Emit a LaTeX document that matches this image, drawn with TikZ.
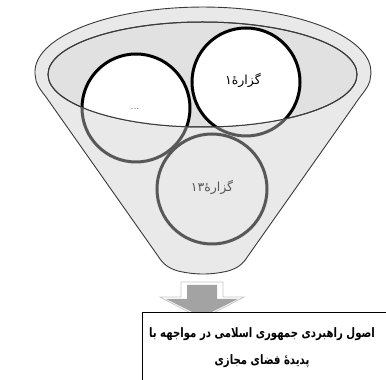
\documentclass[tikz,border=0pt]{standalone}
\usepackage{fontspec}
\newfontfamily\arabicfont[Script=Arabic]{DejaVu Sans}
\newfontfamily\goalfont[Script=Arabic, FakeStretch=0.78]{DejaVu Sans}
\TeXXeTstate=1
\usetikzlibrary{calc}
\definecolor{funnelgray}{HTML}{E9E9E9}
\definecolor{rimgray}{HTML}{E1E1E1}
\definecolor{edge}{HTML}{3A3A3A}
\definecolor{ringfront}{HTML}{585858}
\definecolor{arrowfill}{HTML}{A3A3A3}
\definecolor{arrowline}{HTML}{C6C6C6}
\tikzset{
  funnel/.style={fill=funnelgray, draw=edge, line width=0.9pt},
  rim/.style={fill=rimgray, draw=edge, line width=1pt},
  ring/.style={draw=black, line width=3pt},
  ringback/.style={draw=ringfront, line width=3pt},
  ringlabel/.style={font=\arabicfont\fontsize{12.5}{14}\selectfont, text=#1, inner sep=1pt},
  goalbox/.style={draw=black, fill=white, line width=1pt},
  goaltext/.style={font=\goalfont\bfseries\fontsize{13}{27}\selectfont, align=center, text=black},
}
\begin{document}
\begin{tikzpicture}[x=1pt,y=1pt]
  \useasboundingbox (0,0) rectangle (386,380);
  \clip (0,0) rectangle (386,380);

  % funnel body
  \path[funnel] (158,124) -- (46,283)
    .. controls (38,293) and (35.6,298) .. (35.6,302.3)
    arc[start angle=185, end angle=-5, x radius=168, y radius=65]
    .. controls (370.4,298) and (368,293) .. (360,283) -- (248,124)
    .. controls (243,116) and (238,112) .. (228,109)
    .. controls (211,105) and (195,105) .. (178,109)
    .. controls (168,112) and (163,116) .. cycle;
  \path[rim] (202.5,305.5) ellipse[x radius=154.5, y radius=52.5];

  % statements seen through the opening
  \begin{scope}
    \clip (202.5,305.5) ellipse[x radius=154.5, y radius=52.5];
    \foreach \cx/\cy/\r in {136/272/54, 246/298/54} {
      \fill[white] (\cx,\cy) circle (\r);
      \draw[ring] (\cx,\cy) circle (\r);
    }
  \end{scope}
  \draw[edge, line width=1pt] (202.5,305.5) ellipse[x radius=154.5, y radius=52.5];

  % statements behind the front wall
  \begin{scope}
    \clip (48,305.5) arc[start angle=180, end angle=360, x radius=154.5, y radius=52.5]
      -- (357,0) -- (48,0) -- cycle;
    \foreach \cx/\cy/\r in {136/272/54, 246/298/54, 212/191/55} {
      \draw[ringback] (\cx,\cy) circle (\r);
    }
  \end{scope}

  \node[ringlabel=black] (s1) at (243,300) {\beginR گزارهٔ\beginL ۱\endL\endR};
  \node[ringlabel=ringfront, font=\fontsize{11}{12}\selectfont] (sdots) at (135,271) {...};
  \node[ringlabel=ringfront] (s13) at (212,193) {\beginR گزارهٔ\beginL ۱۳\endL\endR};

  % block arrow
  \path[fill=white, draw=arrowline, line width=0.8pt]
    (181,98) -- (223,98) -- (223,83) -- (244,83) -- (202,61) -- (160,83) -- (181,83) -- cycle;
  \fill[arrowfill]
    (187,95) -- (217,95) -- (217,81) -- (238,81) -- (202,63) -- (166,81) -- (187,81) -- cycle;

  % result box
  \path[goalbox] (142,-10) rectangle (400,67);
  \node[goaltext] (goal) at (262,32.5)
    {\beginR اصول راهبردی جمهوری اسلامی در مواجهه با\endR\\
     \beginR پدیدهٔ فضای مجازی\endR};
\end{tikzpicture}
\end{document}
